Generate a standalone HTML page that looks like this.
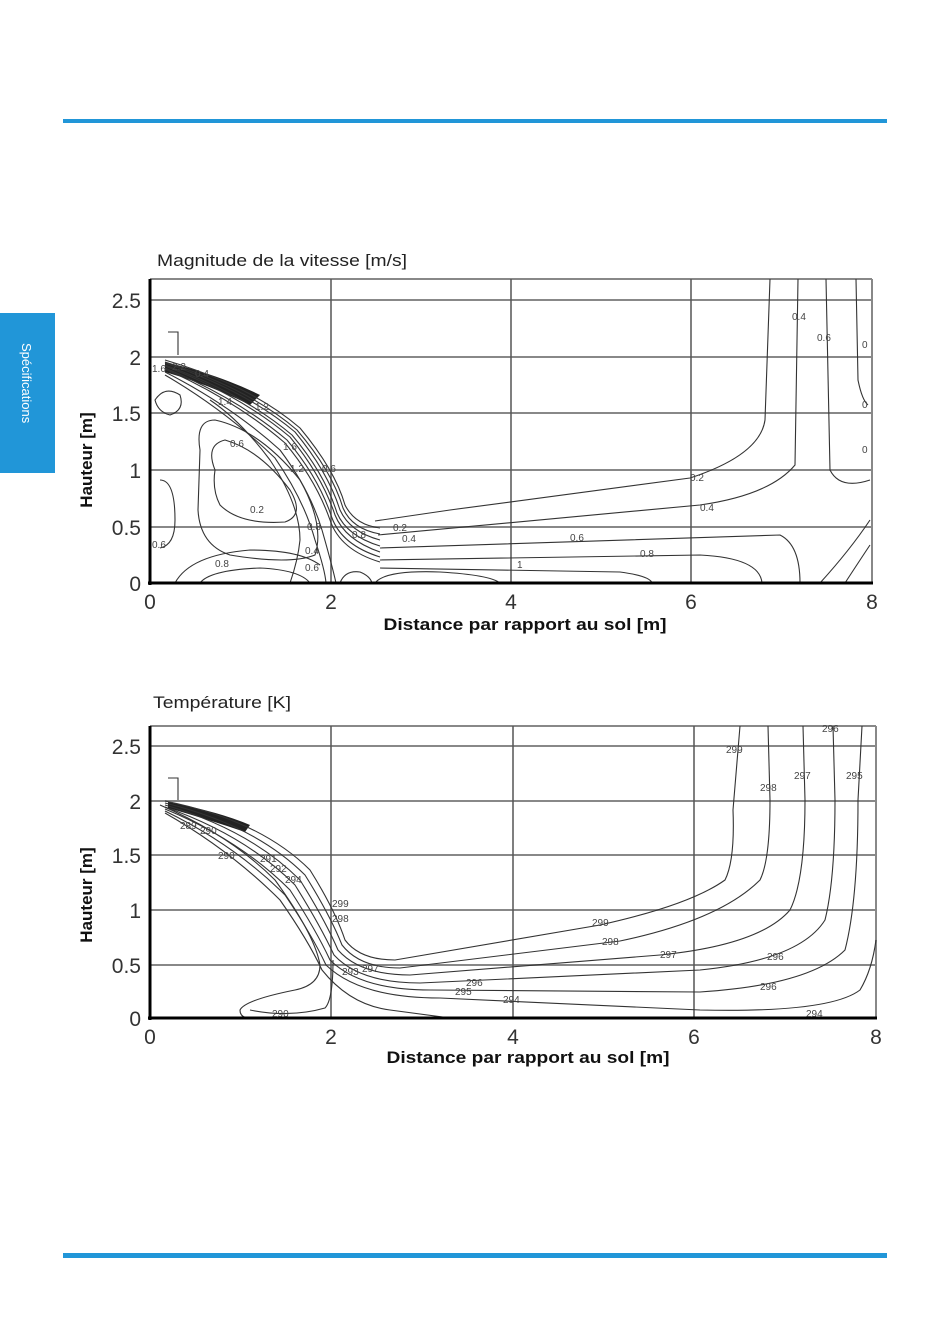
<!DOCTYPE html>
<html><head><meta charset="utf-8"><style>
html,body{margin:0;padding:0;background:#fff;}
svg{display:block;font-family:"Liberation Sans",sans-serif;}
</style></head><body>
<svg width="950" height="1344" viewBox="0 0 950 1344" xmlns="http://www.w3.org/2000/svg">
<rect x="63" y="119" width="824" height="4" fill="#2196d8"/>
<rect x="63" y="1253" width="824" height="5" fill="#2196d8"/>
<rect x="0" y="313" width="55" height="160" fill="#2196d8"/>
<text transform="translate(22,343) rotate(90)" font-size="13" fill="#fff">Spécifications</text>

<!-- Chart 1 -->
<text x="157" y="266" font-size="17" fill="#222" textLength="250" lengthAdjust="spacingAndGlyphs">Magnitude de la vitesse [m/s]</text>
<g stroke="#888" stroke-width="2" fill="none">
<line x1="150" y1="300" x2="872" y2="300"/><line x1="150" y1="357" x2="872" y2="357"/>
<line x1="150" y1="413" x2="872" y2="413"/><line x1="150" y1="470" x2="872" y2="470"/>
<line x1="150" y1="527" x2="872" y2="527"/>
<line x1="150" y1="279" x2="872" y2="279"/><line x1="872" y1="279" x2="872" y2="583"/>
</g>
<g stroke="#555" stroke-width="1.5"><line x1="331" y1="279" x2="331" y2="583"/><line x1="511" y1="279" x2="511" y2="583"/><line x1="691" y1="279" x2="691" y2="583"/></g>
<path d="M165,362 Q220,375 260,395 L250,405 Q210,385 165,372Z" fill="#222"/>
<g stroke="#333" stroke-width="1.1" fill="none">
<path d="M375,521 L450,510 L690,478 Q760,455 765,420 L770,279"/>
<path d="M378,535 L700,505 Q770,495 795,465 L798,279"/>
<path d="M380,548 L780,535 Q800,545 800,583"/>
<path d="M380,560 L700,555 Q760,558 762,583"/>
<path d="M380,568 L620,572 Q650,576 652,583"/>
<path d="M826,279 L830,470 Q840,490 870,480"/>
<path d="M856,279 L858,380 Q862,400 868,405"/>
<path d="M820,583 Q850,550 870,520"/><path d="M845,583 Q860,560 870,545"/>
<path d="M165,360 Q250,385 300,428 Q335,470 345,505 Q355,525 380,528"/>
<path d="M165,362 Q248,388 297,430 Q332,471 343,508 Q352,529 380,534"/>
<path d="M165,363 Q245,390 295,432 Q328,472 340,510 Q350,532 380,540"/>
<path d="M165,365 Q242,393 292,435 Q325,474 337,513 Q347,536 380,546"/>
<path d="M165,366 Q240,395 290,437 Q322,476 335,515 Q345,540 380,552"/>
<path d="M165,368 Q237,398 287,440 Q319,478 332,518 Q342,545 380,557"/>
<path d="M165,369 Q235,400 285,443 Q316,480 330,520 Q340,550 380,562"/>
<path d="M165,372 Q230,405 280,450 Q310,490 322,530 Q332,565 336,583"/>
<path d="M165,375 Q225,410 275,458 Q304,500 315,540 Q325,570 326,583"/>
<path d="M210,400 Q240,420 270,460 Q300,505 300,540 Q298,560 290,583"/>
<path d="M215,470 Q205,445 225,440 Q260,450 290,490 Q305,515 285,522 Q240,525 220,505 Q212,490 215,470Z"/>
<path d="M200,450 Q195,420 215,420 Q260,430 300,480 Q325,525 315,555 Q290,565 230,555 Q200,545 198,510Z"/>
<path d="M160,480 Q175,480 175,520 Q175,545 160,548"/>
<path d="M155,400 Q165,385 180,395 Q185,410 170,415 Q158,412 155,400Z"/>
<path d="M175,583 Q190,555 250,550 Q300,550 320,565"/>
<path d="M200,583 Q210,570 260,568 Q300,570 310,583"/>
<path d="M375,583 Q385,570 440,572 Q490,575 500,583"/>
<path d="M340,583 Q345,570 360,572 Q370,576 372,583"/>
<path d="M168,332 L178,332 L178,355"/>
</g>
<g font-size="10" fill="#444">
<text x="152" y="372">1.6</text><text x="172" y="370">2.2</text><text x="195" y="377">0.4</text>
<text x="218" y="405">1.4</text><text x="255" y="410">1.2</text><text x="230" y="447">0.6</text>
<text x="283" y="450">1.6</text><text x="290" y="472">1.2</text><text x="322" y="472">0.6</text>
<text x="250" y="513">0.2</text><text x="307" y="530">0.8</text><text x="352" y="538">0.8</text>
<text x="152" y="548">0.6</text><text x="215" y="567">0.8</text><text x="305" y="554">0.4</text><text x="305" y="571">0.6</text>
<text x="393" y="531">0.2</text><text x="402" y="542">0.4</text><text x="570" y="541">0.6</text><text x="640" y="557">0.8</text>
<text x="517" y="568">1</text><text x="690" y="481">0.2</text><text x="700" y="511">0.4</text>
<text x="792" y="320">0.4</text><text x="817" y="341">0.6</text><text x="862" y="348">0</text><text x="862" y="408">0</text><text x="862" y="453">0</text>
</g>
<g stroke="#000" stroke-width="3"><line x1="150" y1="279" x2="150" y2="585"/><line x1="148" y1="583" x2="873" y2="583"/></g>
<g font-size="21" fill="#333" text-anchor="end">
<text x="141" y="591">0</text><text x="141" y="535">0.5</text><text x="141" y="478">1</text><text x="141" y="421">1.5</text><text x="141" y="365">2</text><text x="141" y="308">2.5</text>
</g>
<g font-size="21" fill="#333" text-anchor="middle">
<text x="150" y="609">0</text><text x="331" y="609">2</text><text x="511" y="609">4</text><text x="691" y="609">6</text><text x="872" y="609">8</text>
</g>
<text transform="translate(92,460) rotate(-90)" font-size="17" font-weight="bold" text-anchor="middle" fill="#111">Hauteur [m]</text>
<text x="525" y="630" font-size="17" font-weight="bold" text-anchor="middle" fill="#111" textLength="283" lengthAdjust="spacingAndGlyphs">Distance par rapport au sol [m]</text>

<!-- Chart 2 -->
<text x="153" y="708" font-size="17" fill="#222" textLength="138" lengthAdjust="spacingAndGlyphs">Température [K]</text>
<g stroke="#888" stroke-width="2" fill="none">
<line x1="150" y1="746" x2="876" y2="746"/><line x1="150" y1="801" x2="876" y2="801"/>
<line x1="150" y1="855" x2="876" y2="855"/><line x1="150" y1="910" x2="876" y2="910"/>
<line x1="150" y1="965" x2="876" y2="965"/>
<line x1="150" y1="726" x2="876" y2="726"/><line x1="876" y1="726" x2="876" y2="1018"/>
</g>
<g stroke="#555" stroke-width="1.5"><line x1="331" y1="726" x2="331" y2="1018"/><line x1="513" y1="726" x2="513" y2="1018"/><line x1="694" y1="726" x2="694" y2="1018"/></g>
<path d="M168,802 Q220,812 250,825 L245,832 Q210,820 168,808Z" fill="#222"/>
<g stroke="#333" stroke-width="1.1" fill="none">
<path d="M165,801 Q260,820 310,870 Q335,910 345,940 Q360,960 395,960 L600,925 Q690,905 725,880 Q735,860 733,810 L740,726"/>
<path d="M165,803 Q255,825 305,875 Q330,915 342,945 Q360,968 400,968 L620,941 Q720,920 760,880 Q770,860 770,800 L768,726"/>
<path d="M165,805 Q250,830 300,880 Q325,920 338,950 Q360,975 410,975 L660,955 Q760,945 790,910 Q805,880 805,800 L803,726"/>
<path d="M165,807 Q245,835 295,885 Q320,925 334,955 Q360,983 420,983 L700,970 Q800,960 825,920 Q835,880 835,800 L833,726"/>
<path d="M165,809 Q240,840 290,890 Q316,930 330,960 Q360,990 430,990 L700,992 Q810,985 845,950 Q858,900 858,800 L862,726"/>
<path d="M165,811 Q235,845 285,895 Q312,935 326,965 Q360,998 440,998 L700,1010 Q830,1013 860,990 Q872,970 876,940"/>
<path d="M165,813 Q230,850 280,900 Q308,940 322,970 Q350,1005 390,1010 L450,1018"/>
<path d="M160,805 Q230,835 275,880 Q315,935 320,965 Q320,985 295,990 Q245,1000 240,1010 Q240,1018 250,1018"/>
<path d="M250,1010 Q290,1018 325,1008 Q333,1000 333,960"/>
<path d="M168,778 L178,778 L178,800"/>
</g>
<g font-size="10" fill="#444">
<text x="180" y="829">289</text><text x="200" y="834">290</text><text x="218" y="859">290</text>
<text x="260" y="862">291</text><text x="270" y="872">292</text><text x="285" y="883">294</text>
<text x="332" y="907">299</text><text x="332" y="922">298</text><text x="342" y="975">293</text><text x="362" y="972">297</text>
<text x="466" y="986">296</text><text x="455" y="995">295</text><text x="503" y="1003">294</text><text x="272" y="1017">290</text>
<text x="592" y="926">299</text><text x="602" y="945">298</text><text x="660" y="958">297</text><text x="767" y="960">296</text><text x="760" y="990">296</text><text x="806" y="1017">294</text>
<text x="726" y="753">299</text><text x="760" y="791">298</text><text x="794" y="779">297</text><text x="846" y="779">295</text><text x="822" y="732">296</text>
</g>
<g stroke="#000" stroke-width="3"><line x1="150" y1="726" x2="150" y2="1020"/><line x1="148" y1="1018" x2="877" y2="1018"/></g>
<g font-size="21" fill="#333" text-anchor="end">
<text x="141" y="1026">0</text><text x="141" y="973">0.5</text><text x="141" y="918">1</text><text x="141" y="863">1.5</text><text x="141" y="809">2</text><text x="141" y="754">2.5</text>
</g>
<g font-size="21" fill="#333" text-anchor="middle">
<text x="150" y="1044">0</text><text x="331" y="1044">2</text><text x="513" y="1044">4</text><text x="694" y="1044">6</text><text x="876" y="1044">8</text>
</g>
<text transform="translate(92,895) rotate(-90)" font-size="17" font-weight="bold" text-anchor="middle" fill="#111">Hauteur [m]</text>
<text x="528" y="1063" font-size="17" font-weight="bold" text-anchor="middle" fill="#111" textLength="283" lengthAdjust="spacingAndGlyphs">Distance par rapport au sol [m]</text>
</svg>
</body></html>
